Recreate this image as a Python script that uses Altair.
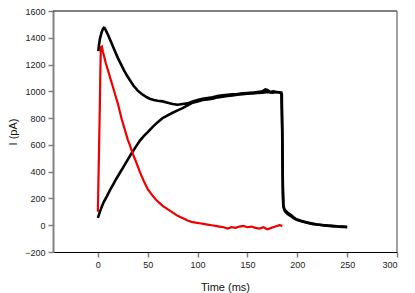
import altair as alt
import pandas as pd

# Black trace A (fast peak, then slow rise)
a_t = [0.5, 1, 2, 3, 4, 5, 6, 7, 8, 10, 12, 14, 16, 18, 20, 23, 26, 29, 32, 36, 40, 44, 48, 52, 56, 60, 65, 70, 75, 80, 85, 90, 95, 100, 105, 110, 115, 120, 125, 130, 135, 140, 145, 150, 155, 160, 165, 168, 170, 173, 176, 179, 182, 184, 185, 185.5, 186, 187, 188, 190, 192, 194, 196, 198, 200, 205, 210, 215, 220, 225, 230, 235, 240, 245, 250]
a_i = [1300, 1340, 1390, 1420, 1445, 1465, 1475, 1470, 1455, 1425, 1390, 1355, 1320, 1285, 1250, 1205, 1160, 1120, 1085, 1040, 1005, 980, 960, 945, 935, 930, 925, 915, 905, 900, 905, 910, 925, 935, 945, 950, 955, 965, 970, 975, 978, 980, 985, 988, 990, 995, 1000, 1015, 1010, 995, 1000, 995, 993, 990, 700, 300, 150, 115, 100, 85, 75, 65, 55, 45, 38, 28, 18, 10, 5, 0, -3, -7, -10, -12, -15]

# Black trace B (slow rise)
b_t = [0, 2, 4, 6, 9, 12, 15, 18, 22, 26, 30, 34, 38, 42, 46, 50, 55, 60, 65, 70, 75, 80, 85, 90, 95, 100, 105, 110, 115, 120, 125, 130, 135, 140, 145, 150, 155, 160, 165, 170, 175, 180, 183, 184.5, 185, 185.5, 186, 187, 188, 190, 192, 194, 196, 198, 200, 205, 210, 215, 220, 225, 230, 235, 240, 245, 250]
b_i = [55, 100, 140, 175, 216, 260, 300, 340, 390, 440, 490, 540, 585, 630, 665, 695, 735, 770, 800, 820, 840, 858, 875, 895, 915, 925, 935, 940, 945, 955, 960, 965, 970, 975, 978, 982, 985, 988, 990, 995, 990, 995, 990, 980, 600, 250, 140, 120, 110, 95, 85, 75, 62, 50, 42, 30, 20, 12, 6, 2, -2, -5, -8, -10, -12]

# Red trace (fast transient)
r_t = [0, 0.5, 1, 1.5, 2, 2.5, 3, 4, 5, 6, 8, 10, 12, 14, 16, 18, 20, 22, 24, 26, 28, 30, 32, 34, 36, 38, 40, 42, 44, 46, 48, 50, 53, 56, 59, 62, 65, 68, 71, 74, 77, 80, 83, 86, 90, 94, 98, 102, 106, 110, 114, 118, 122, 126, 130, 134, 138, 142, 146, 150, 154, 158, 162, 166, 170, 174, 178, 182, 185]
r_i = [100, 300, 500, 700, 900, 1150, 1330, 1335, 1300, 1270, 1210, 1160, 1110, 1060, 1010, 960, 910, 850, 790, 740, 690, 640, 600, 555, 515, 480, 440, 400, 365, 330, 300, 270, 240, 210, 185, 165, 145, 130, 115, 100, 85, 70, 60, 50, 35, 25, 20, 15, 10, 5, 0, -5, -10, -15, -25, -15, -20, -10, -5, -15, -10, -20, -25, -15, -30, -20, -10, 0, -5]

x_domain = [-45, 300]
y_domain = [-200, 1600]
x_ticks = [0, 50, 100, 150, 200, 250, 300]
y_ticks = [-200, 0, 200, 400, 600, 800, 1000, 1200, 1400, 1600]

black = pd.concat([
    pd.DataFrame({"t": a_t, "i": a_i, "s": "A", "o": range(len(a_t))}),
    pd.DataFrame({"t": b_t, "i": b_i, "s": "B", "o": range(len(b_t))}),
])
red = pd.DataFrame({"t": r_t, "i": r_i, "o": range(len(r_t))})
edges = pd.DataFrame({"top": [y_domain[1]], "right": [x_domain[1]]})

xs = alt.Scale(domain=x_domain, nice=False, zero=False)
ys = alt.Scale(domain=y_domain, nice=False, zero=False)

font = "Liberation Sans"

xaxis = alt.Axis(values=x_ticks, format="d", title="Time (ms)", grid=False, domainColor="#000000",
                 domainWidth=1.2, tickColor="#808080", tickSize=5, tickWidth=1.5,
                 labelFont=font, labelFontSize=9, labelColor="#222222", labelPadding=3,
                 titleFont=font, titleFontSize=11, titleFontWeight="normal",
                 titleColor="#111111", titlePadding=12)
yaxis = alt.Axis(values=y_ticks, format="d", title="I (pA)", grid=False, domainColor="#808080",
                 domainWidth=2, tickColor="#808080", tickSize=5, tickWidth=1.5,
                 labelFont=font, labelFontSize=9, labelColor="#222222", labelPadding=3,
                 titleFont=font, titleFontSize=11, titleFontWeight="normal",
                 titleColor="#111111", titlePadding=6)

top_rule = alt.Chart(edges).mark_rule(color="#000000", strokeWidth=1.2).encode(
    y=alt.Y("top:Q", scale=ys, axis=yaxis)
)
right_rule = alt.Chart(edges).mark_rule(color="#808080", strokeWidth=1.5).encode(
    x=alt.X("right:Q", scale=xs, axis=xaxis)
)

lines_black = alt.Chart(black).mark_line(color="#000000", strokeWidth=2.6).encode(
    x=alt.X("t:Q", scale=xs, axis=xaxis),
    y=alt.Y("i:Q", scale=ys, axis=yaxis),
    detail="s:N",
    order="o:Q",
)

lines_red = alt.Chart(red).mark_line(color="#ee0000", strokeWidth=2.2).encode(
    x=alt.X("t:Q", scale=xs, axis=xaxis),
    y=alt.Y("i:Q", scale=ys, axis=yaxis),
    order="o:Q",
)

chart = alt.layer(top_rule, right_rule, lines_black, lines_red).properties(
    width=344, height=241,
    background="#ffffff",
    autosize=alt.AutoSizeParams(type="none"),
    padding={"left": 45, "top": 3, "right": 10, "bottom": 45},
).configure_view(stroke=None)

chart.save("out.html", embed_options={"renderer": "svg", "actions": False})
